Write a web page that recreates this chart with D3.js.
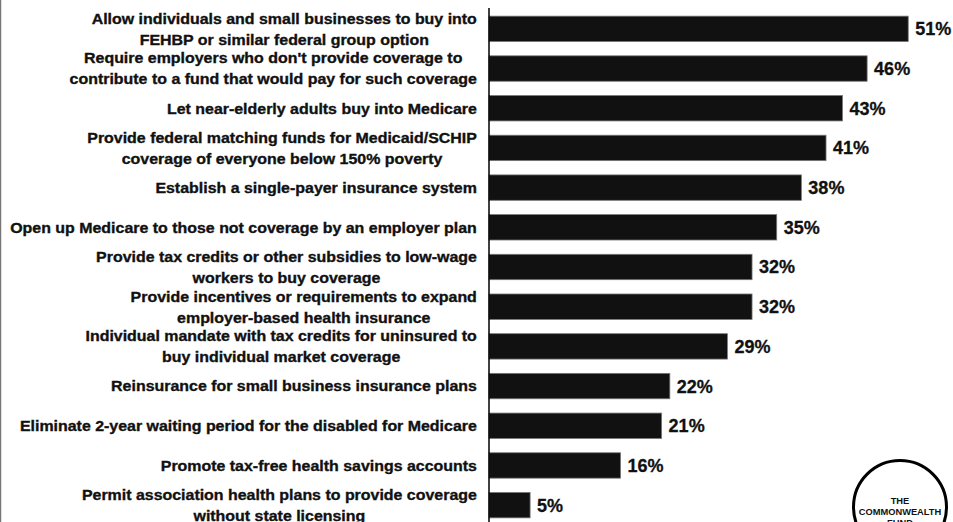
<!DOCTYPE html>
<html><head><meta charset="utf-8">
<script src="https://cdn.jsdelivr.net/npm/d3@7"></script>
<style>body{margin:0;background:#fff}svg{display:block}</style>
</head><body>
<svg id="c" width="953" height="522"></svg>
<script>
const categories = [
  ["Allow individuals and small businesses to buy into", "FEHBP or similar federal group option"],
  ["Require employers who don't provide coverage to", "contribute to a fund that would pay for such coverage"],
  ["Let near-elderly adults buy into Medicare"],
  ["Provide federal matching funds for Medicaid/SCHIP", "coverage of everyone below 150% poverty"],
  ["Establish a single-payer insurance system"],
  ["Open up Medicare to those not coverage by an employer plan"],
  ["Provide tax credits or other subsidies to low-wage", "workers to buy coverage"],
  ["Provide incentives or requirements to expand", "employer-based health insurance"],
  ["Individual mandate with tax credits for uninsured to", "buy individual market coverage"],
  ["Reinsurance for small business insurance plans"],
  ["Eliminate 2-year waiting period for the disabled for Medicare"],
  ["Promote tax-free health savings accounts"],
  ["Permit association health plans to provide coverage", "without state licensing"]
];
const values = [51, 46, 43, 41, 38, 35, 32, 32, 29, 22, 21, 16, 5];
const logoLines = ["THE", "COMMONWEALTH", "FUND"];

const svg = d3.select("#c");
const font = "'Liberation Sans', Arial, sans-serif";
const x0 = 489;
const x = d3.scaleLinear().domain([0, 10]).range([x0, x0 + 82.2]);
const y = d3.scaleBand().domain(d3.range(values.length)).range([9, 525]).paddingInner(0.36).paddingOuter(0.18);

// left border line
svg.append("line").attr("x1", 0.5).attr("x2", 0.5).attr("y1", 0).attr("y2", 522)
  .attr("stroke", "#777").attr("stroke-width", 1.5);

// bars
svg.selectAll("rect.bar").data(values).join("rect").attr("class", "bar")
  .attr("x", x(0)).attr("y", (d, i) => y(i))
  .attr("width", d => x(d) - x(0)).attr("height", y.bandwidth())
  .attr("fill", "#111").attr("stroke", "#777").attr("stroke-width", 0.8);

// axis
svg.append("g").attr("transform", `translate(${x0},0)`)
  .call(d3.axisLeft(y).tickSize(0).tickFormat(""))
  .call(g => g.select(".domain").attr("d", "M0,8V522").attr("stroke", "#000").attr("stroke-width", 1.5));

// value labels
svg.selectAll("text.val").data(values).join("text").attr("class", "val")
  .attr("x", d => x(d) + 7).attr("y", (d, i) => y(i) + y.bandwidth() / 2)
  .attr("dy", "0.36em").attr("font-family", font).attr("font-weight", "bold")
  .attr("font-size", 18).attr("fill", "#111")
  .attr("stroke", "#111").attr("stroke-width", 0.3).text(d => d + "%");

// category labels
const labelRight = 477;
const lineH = 21;
const lg = svg.append("g");
const groups = lg.selectAll("g.lab").data(categories).join("g").attr("class", "lab");
groups.each(function(lines, i) {
  const g = d3.select(this);
  const cy = y(i) + y.bandwidth() / 2;
  lines.forEach((t, k) => {
    g.append("text").attr("text-anchor", "middle")
      .attr("y", cy + (k - (lines.length - 1) / 2) * lineH)
      .attr("dy", "0.36em").attr("font-family", font).attr("font-weight", "bold")
      .attr("font-size", 15).attr("fill", "#111")
      .attr("stroke", "#111").attr("stroke-width", 0.35).text(t);
  });
});
// compress horizontally so the widest label spans 467px
let maxW = 0;
lg.selectAll("text").each(function() { maxW = Math.max(maxW, this.getComputedTextLength()); });
const sx = 467 / maxW;
groups.each(function() {
  const g = d3.select(this);
  let w = 0;
  g.selectAll("text").each(function() { w = Math.max(w, this.getComputedTextLength()); });
  const cx = labelRight - (w * sx) / 2;
  g.attr("transform", `translate(${cx},0) scale(${sx},1)`);
});

// logo
const lgx = 900, lgy = 507;
svg.append("circle").attr("cx", lgx).attr("cy", lgy).attr("r", 46.5)
  .attr("fill", "#fff").attr("stroke", "#000").attr("stroke-width", 3);
svg.selectAll("text.logo").data(logoLines).join("text").attr("class", "logo")
  .attr("x", lgx).attr("y", (d, i) => 503.5 + i * 11).attr("text-anchor", "middle")
  .attr("font-family", font).attr("font-weight", "bold").attr("font-size", 9.3).attr("fill", "#111").text(d => d);
</script>
</body></html>
